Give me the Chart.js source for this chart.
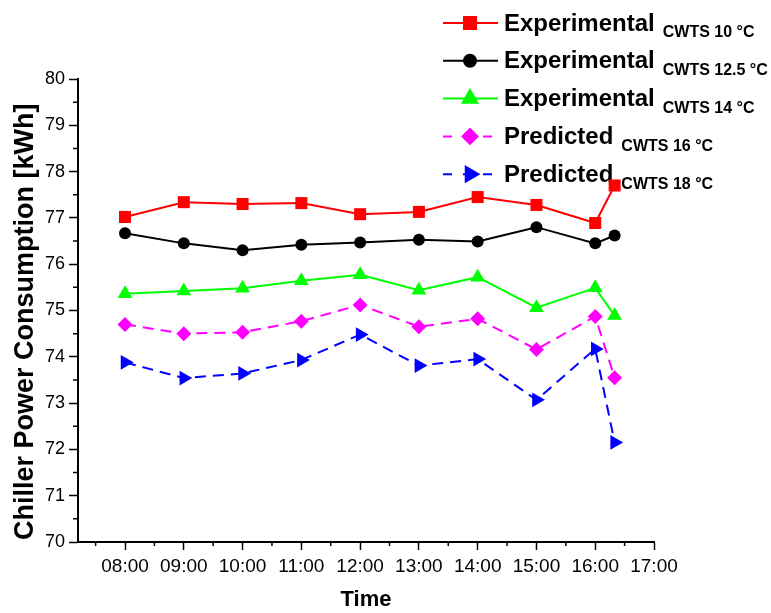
<!DOCTYPE html>
<html>
<head>
<meta charset="utf-8">
<script src="https://cdn.jsdelivr.net/npm/chart.js@4/dist/chart.umd.min.js"></script>
<style>
  html, body { margin: 0; padding: 0; background: #fff; }
  canvas { display: block; }
</style>
</head>
<body>
<canvas id="chart" width="771" height="613"></canvas>
<script>
// time of day in hours (last reading ~16:20)
const hours = [8, 9, 10, 11, 12, 13, 14, 15, 16, 16.33];

const exp10 = [77.02, 77.34, 77.30, 77.32, 77.08, 77.13, 77.45, 77.28, 76.89, 77.70];
const exp125 = [76.67, 76.45, 76.30, 76.42, 76.47, 76.53, 76.49, 76.80, 76.45, 76.62];
const exp14 = [75.36, 75.42, 75.48, 75.64, 75.77, 75.44, 75.72, 75.06, 75.49, 74.89];
const pred16 = [74.70, 74.50, 74.53, 74.77, 75.12, 74.65, 74.82, 74.16, 74.87, 73.55];
const pred18 = [73.88, 73.54, 73.64, 73.93, 74.48, 73.81, 73.95, 73.07, 74.17, 72.15];

const xTicks = [7.5, 8, 8.5, 9, 9.5, 10, 10.5, 11, 11.5, 12, 12.5, 13, 13.5, 14, 14.5, 15, 15.5, 16, 16.5, 17];
const yTicks = [70, 70.5, 71, 71.5, 72, 72.5, 73, 73.5, 74, 74.5, 75, 75.5, 76, 76.5, 77, 77.5, 78, 78.5, 79, 79.5, 80];

const series = [
  { main: 'Experimental', sub: 'CWTS 10 °C', data: exp10, color: '#ff0000', style: 'rect', radius: 8.5, rot: 0, dash: [] },
  { main: 'Experimental', sub: 'CWTS 12.5 °C', data: exp125, color: '#000000', style: 'circle', radius: 6, rot: 0, dash: [] },
  { main: 'Experimental', sub: 'CWTS 14 °C', data: exp14, color: '#00ff00', style: 'triangle', radius: 8.5, rot: 0, dash: [] },
  { main: 'Predicted', sub: 'CWTS 16 °C', data: pred16, color: '#ff00ff', style: 'rectRot', radius: 7.5, rot: 0, dash: [11, 7] },
  { main: 'Predicted', sub: 'CWTS 18 °C', data: pred18, color: '#0000ff', style: 'triangle', radius: 8.5, rot: 90, dash: [11, 7] }
];

const FONT = 'Arial, "Liberation Sans", sans-serif';
const isMajor = v => Number.isInteger(v);

// legend with subscripts, drawn by hand
const legendPlugin = {
  id: 'subLegend',
  beforeDatasetsDraw(chart) {
    const ctx = chart.ctx;
    ctx.save();
    series.forEach((s, i) => {
      const y = 23 + i * 37.8;
      ctx.strokeStyle = s.color;
      ctx.lineWidth = 2;
      ctx.setLineDash(s.dash.length ? [9, 11] : []);
      ctx.beginPath();
      ctx.moveTo(443, y);
      ctx.lineTo(498, y);
      ctx.stroke();
      ctx.setLineDash([]);
      ctx.fillStyle = s.color;
      Chart.helpers.drawPoint(ctx, { pointStyle: s.style, radius: s.radius, rotation: s.rot, borderWidth: 1 }, 470, y);
      ctx.fill();
      ctx.fillStyle = '#000';
      ctx.textBaseline = 'middle';
      ctx.font = 'bold 24px ' + FONT;
      ctx.fillText(s.main, 504, y + 1);
      const w = ctx.measureText(s.main).width;
      ctx.font = 'bold 16px ' + FONT;
      ctx.fillText(s.sub, 504 + w + 8, y + 10);
    });
    ctx.restore();
  }
};

// short minor ticks (half hours / half units)
const minorTicks = {
  id: 'minorTicks',
  afterDraw(chart) {
    const ctx = chart.ctx;
    const x = chart.scales.x, y = chart.scales.y;
    ctx.save();
    ctx.strokeStyle = '#000';
    ctx.lineWidth = 1.5;
    ctx.beginPath();
    xTicks.filter(v => !isMajor(v)).forEach(v => {
      const px = x.getPixelForValue(v);
      ctx.moveTo(px, x.top);
      ctx.lineTo(px, x.top + 4);
    });
    yTicks.filter(v => !isMajor(v)).forEach(v => {
      const py = y.getPixelForValue(v);
      ctx.moveTo(y.right, py);
      ctx.lineTo(y.right - 5, py);
    });
    ctx.stroke();
    ctx.restore();
  }
};

new Chart(document.getElementById('chart'), {
  type: 'line',
  data: {
    datasets: series.map(s => ({
      label: s.main + ' ' + s.sub,
      data: hours.map((h, i) => ({ x: h, y: s.data[i] })),
      borderColor: s.color,
      backgroundColor: s.color,
      borderWidth: 2,
      borderDash: s.dash,
      pointStyle: s.style,
      pointRadius: s.radius,
      pointRotation: s.rot,
      pointBorderWidth: 0,
      tension: 0
    }))
  },
  options: {
    responsive: false,
    animation: false,
    layout: { padding: { top: 79, right: 117, left: 0, bottom: 0 } },
    plugins: { legend: { display: false }, tooltip: { enabled: false } },
    scales: {
      x: {
        type: 'linear',
        min: 7.2,
        max: 17,
        afterBuildTicks: s => { s.ticks = xTicks.map(v => ({ value: v })); },
        afterFit: s => { s.height = 71; },
        border: { color: '#000', width: 2 },
        grid: {
          drawOnChartArea: false,
          tickLength: 8,
          tickWidth: 1.5,
          tickColor: c => isMajor(c.tick.value) ? '#000' : 'rgba(0,0,0,0)'
        },
        ticks: {
          color: '#000',
          padding: 5,
          autoSkip: false,
          maxRotation: 0,
          font: { family: FONT, size: 19 },
          callback: v => isMajor(v) ? String(v).padStart(2, '0') + ':00' : ''
        },
        title: {
          display: true,
          text: 'Time',
          color: '#000',
          font: { family: FONT, size: 22, weight: 'bold' },
          padding: { top: 0, bottom: 0 }
        }
      },
      y: {
        min: 70,
        max: 80,
        afterBuildTicks: s => { s.ticks = yTicks.map(v => ({ value: v })); },
        afterFit: s => { s.width = 78; },
        border: { color: '#000', width: 2 },
        grid: {
          drawOnChartArea: false,
          tickLength: 9,
          tickWidth: 1.5,
          tickColor: c => isMajor(c.tick.value) ? '#000' : 'rgba(0,0,0,0)'
        },
        ticks: {
          color: '#000',
          padding: 4,
          autoSkip: false,
          font: { family: FONT, size: 18 },
          callback: v => isMajor(v) ? String(v) : ''
        },
        title: {
          display: true,
          text: 'Chiller Power Consumption [kWh]   ',
          color: '#000',
          font: { family: FONT, size: 27, weight: 'bold' },
          padding: { top: 9, bottom: 0 }
        }
      }
    }
  },
  plugins: [legendPlugin, minorTicks]
});
</script>
</body>
</html>
